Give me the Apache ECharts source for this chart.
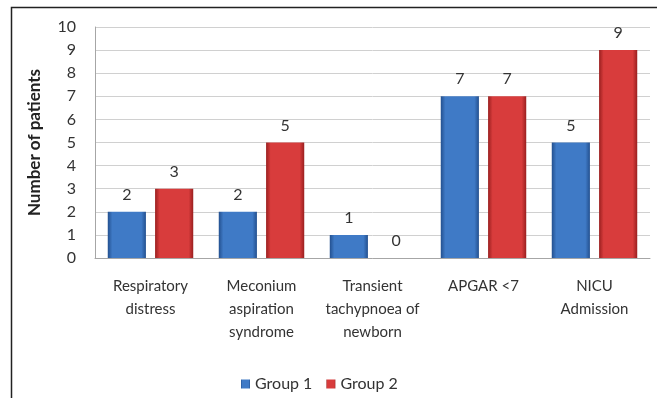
<!DOCTYPE html>
<html><head><meta charset="utf-8">
<script src="https://cdn.jsdelivr.net/npm/echarts@6/dist/echarts.min.js"></script>
<style>html,body{margin:0;padding:0;background:#fff}#c{width:657px;height:398px}</style>
</head><body><div id="c"></div>
<script>
var categories = ["Respiratory\ndistress", "Meconium\naspiration\nsyndrome", "Transient\ntachypnoea of\nnewborn", "APGAR <7", "NICU\nAdmission"];
var group1 = [2, 2, 1, 7, 5];
var group2 = [3, 5, 0, 7, 9];
var seriesNames = ["Group 1", "Group 2"];
var yTicks = [0, 10, 1];

var font = "Lato, 'Open Sans', sans-serif";
function grad(dark, light) {
  return new echarts.graphic.LinearGradient(0, 0, 1, 0, [
    {offset: 0, color: dark}, {offset: 0.12, color: light}, {offset: 0.5, color: light}, {offset: 0.88, color: light}, {offset: 1, color: dark}
  ]);
}
var chart = echarts.init(document.getElementById('c'), null, {renderer: 'canvas'});
chart.setOption({
  animation: false,
  textStyle: {fontFamily: font},
  graphic: [{
    type: 'polyline', shape: {points: [[11.5, 398], [11.5, 7.5], [657, 7.5]]},
    style: {stroke: '#222', lineWidth: 1.5, fill: null}
  }],
  grid: {left: 95, right: 7, top: 27, bottom: 140},
  legend: {
    left: 236, top: 371, itemWidth: 9, itemHeight: 9, itemGap: 14,
    textStyle: {fontSize: 16, color: '#333', fontFamily: font},
    data: [{name: seriesNames[0], icon: 'rect'}, {name: seriesNames[1], icon: 'rect'}]
  },
  xAxis: {
    type: 'category', data: categories,
    axisLine: {lineStyle: {color: '#a6a6a6'}},
    axisTick: {show: false},
    axisLabel: {interval: 0, fontSize: 15, color: '#333', lineHeight: 23, margin: 17, fontFamily: font}
  },
  yAxis: {
    type: 'value', min: yTicks[0], max: yTicks[1], interval: yTicks[2],
    name: 'Number of patients', nameLocation: 'middle', nameGap: 52,
    nameTextStyle: {fontSize: 17, fontWeight: 'bold', color: '#222', fontFamily: font},
    axisLine: {show: true, lineStyle: {color: '#a6a6a6'}},
    axisTick: {show: false},
    axisLabel: {fontSize: 16, color: '#333', margin: 19, fontFamily: font},
    splitLine: {lineStyle: {color: '#d0d0d0'}}
  },
  series: [{
    name: seriesNames[0], type: 'bar', data: group1,
    barGap: '24%', barCategoryGap: '23%',
    itemStyle: {color: grad('#23508f', '#3f7ac6')},
    label: {show: true, position: 'top', distance: 9, fontSize: 16, color: '#333', fontFamily: font}
  }, {
    name: seriesNames[1], type: 'bar', data: group2,
    itemStyle: {color: grad('#9a1f1f', '#d83c3c')},
    label: {show: true, position: 'top', distance: 9, fontSize: 16, color: '#333', fontFamily: font}
  }]
});
</script></body></html>
